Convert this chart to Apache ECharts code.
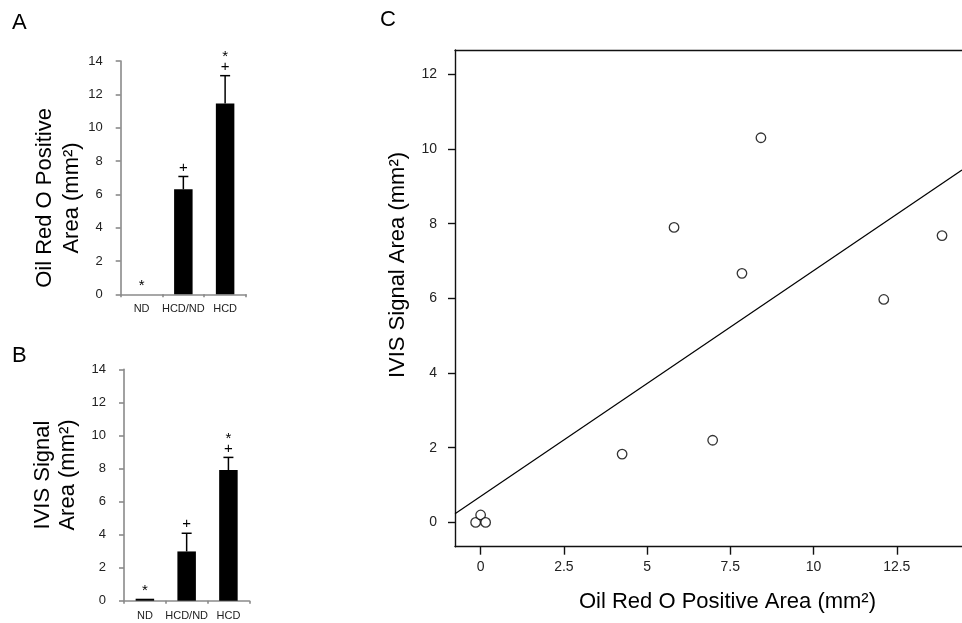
<!DOCTYPE html>
<html>
<head>
<meta charset="utf-8">
<script src="https://cdn.jsdelivr.net/npm/echarts@6/dist/echarts.min.js"></script>
<style>
  html, body { margin: 0; padding: 0; background: #fff; }
  #chart { width: 962px; height: 623px; }
</style>
</head>
<body>
<div id="chart"></div>
<script>
// panel A / B bar data
const groups = ['ND', 'HCD/ND', 'HCD']
const oilMean = [0, 6.3, 11.45]
const oilErr = [0, 0.77, 1.67]
const oilSig = [['*'], ['+'], ['+', '*']]
const ivisMean = [0.12, 2.98, 7.9]
const ivisErr = [0, 1.1, 0.77]
const ivisSig = [['*'], ['+'], ['+', '*']]
const barTicks = [0, 2, 4, 6, 8, 10, 12, 14]

// panel C scatter data
const oilX = [-0.15, 0, 0.15, 4.25, 5.81, 6.97, 7.85, 8.42, 12.11, 13.86]
const ivisY = [0, 0.2, 0, 1.83, 7.9, 2.2, 6.67, 10.3, 5.97, 7.68]
const fitSlope = 0.604
const fitIntercept = 0.70
const xTicksC = [0, 2.5, 5, 7.5, 10, 12.5]
const yTicksC = [0, 2, 4, 6, 8, 10, 12]
const xMinC = -0.77, xMaxC = 14.46
const yMinC = -0.65, yMaxC = 12.65

const FONT = "'Liberation Sans', Arial, sans-serif"
const chart = echarts.init(document.getElementById('chart'), null, { renderer: 'canvas' })

function catAxis(grid, margin) {
  return {
    type: 'category', gridIndex: grid, data: groups, boundaryGap: true,
    axisLine: { show: true, onZero: false, lineStyle: { color: '#8a8a8a', width: 1.6 } },
    axisTick: { show: true, length: 3, lineStyle: { color: '#8a8a8a', width: 1.6 } },
    axisLabel: { interval: 0, fontSize: 11, color: '#222', fontFamily: FONT, margin: margin },
    splitLine: { show: false }
  }
}
function barValAxis(grid) {
  return {
    type: 'value', gridIndex: grid, min: 0, max: 14, interval: 2,
    axisLine: { show: true, lineStyle: { color: '#8a8a8a', width: 1.6 } },
    axisTick: { show: true, length: 5, lineStyle: { color: '#8a8a8a', width: 1.6 } },
    axisLabel: { fontSize: 13, color: '#222', fontFamily: FONT, margin: 18 },
    splitLine: { show: false }
  }
}

function errSeries(idx, mean, err) {
  return {
    type: 'custom', xAxisIndex: idx, yAxisIndex: idx, z: 3,
    data: groups.map((g, i) => [i, mean[i], err[i]]),
    renderItem: (params, api) => {
      const e = api.value(2)
      if (!e) return null
      const bot = api.coord([api.value(0), api.value(1)])
      const top = api.coord([api.value(0), api.value(1) + e])
      const st = { stroke: '#000', lineWidth: 1.5 }
      return {
        type: 'group', children: [
          { type: 'line', shape: { x1: bot[0], y1: bot[1], x2: top[0], y2: top[1] }, style: st },
          { type: 'line', shape: { x1: top[0] - 5, y1: top[1], x2: top[0] + 5, y2: top[1] }, style: st }
        ]
      }
    }
  }
}

function sigSeries(idx, mean, err, sig) {
  return {
    type: 'custom', xAxisIndex: idx, yAxisIndex: idx, z: 4,
    data: groups.map((g, i) => [i, mean[i] + err[i]]),
    renderItem: (params, api) => {
      const p = api.coord([api.value(0), api.value(1)])
      const marks = sig[params.dataIndex]
      return {
        type: 'group',
        children: marks.map((m, k) => {
          let off = k === 0 ? (m === '*' ? 11 : 9) : 22
          if (m === '*') off -= 3
          return {
            type: 'text', x: p[0], y: p[1] - off,
            style: { text: m, fill: '#000', fontSize: 15, fontFamily: FONT, align: 'center', verticalAlign: 'middle' }
          }
        })
      }
    }
  }
}

function label(text, x, y, size, rot, lh) {
  return {
    type: 'text', x: x, y: y, rotation: rot || 0,
    style: { text: text, fill: '#000', fontSize: size, fontFamily: FONT, align: 'center', verticalAlign: 'middle', lineHeight: lh || size }
  }
}

chart.setOption({
  animation: false,
  backgroundColor: '#fff',
  grid: [
    { left: 120.7, top: 61, width: 125.3, height: 233.3, outerBoundsMode: 'none' },
    { left: 124, top: 369.3, width: 125.3, height: 231.4, outerBoundsMode: 'none' },
    { left: 455, top: 50, right: 0, height: 496.7, outerBoundsMode: 'none' }
  ],
  xAxis: [
    catAxis(0, 9),
    catAxis(1, 10),
    {
      type: 'value', gridIndex: 2, min: xMinC, max: xMaxC,
      axisLine: { show: true, onZero: false, lineStyle: { color: '#111', width: 1.4 } },
      axisTick: { show: true, length: 8, customValues: xTicksC, lineStyle: { color: '#111', width: 1.4 } },
      axisLabel: { customValues: xTicksC, fontSize: 14, color: '#222', fontFamily: FONT, margin: 13 },
      splitLine: { show: false }
    },
    {
      type: 'value', gridIndex: 2, position: 'top', min: xMinC, max: xMaxC,
      axisLine: { show: true, onZero: false, lineStyle: { color: '#111', width: 1.4 } },
      axisTick: { show: false }, axisLabel: { show: false }, splitLine: { show: false }
    }
  ],
  yAxis: [
    barValAxis(0),
    barValAxis(1),
    {
      type: 'value', gridIndex: 2, min: yMinC, max: yMaxC,
      axisLine: { show: true, onZero: false, lineStyle: { color: '#111', width: 1.4 } },
      axisTick: { show: true, length: 7, customValues: yTicksC, lineStyle: { color: '#111', width: 1.4 } },
      axisLabel: { customValues: yTicksC, fontSize: 14, color: '#222', fontFamily: FONT, margin: 18 },
      splitLine: { show: false }
    }
  ],
  series: [
    { type: 'bar', xAxisIndex: 0, yAxisIndex: 0, data: oilMean, barWidth: 18.5, itemStyle: { color: '#000' } },
    errSeries(0, oilMean, oilErr),
    sigSeries(0, oilMean, oilErr, oilSig),
    { type: 'bar', xAxisIndex: 1, yAxisIndex: 1, data: ivisMean, barWidth: 18.5, itemStyle: { color: '#000' } },
    errSeries(1, ivisMean, ivisErr),
    sigSeries(1, ivisMean, ivisErr, ivisSig),
    {
      type: 'line', xAxisIndex: 2, yAxisIndex: 2, showSymbol: false, symbol: 'none', z: 2,
      data: [[xMinC, fitIntercept + fitSlope * xMinC], [xMaxC, fitIntercept + fitSlope * xMaxC]],
      lineStyle: { color: '#000', width: 1.2 }
    },
    {
      type: 'scatter', xAxisIndex: 2, yAxisIndex: 2, symbol: 'circle', symbolSize: 9.5, z: 3,
      data: oilX.map((x, i) => [x, ivisY[i]]),
      itemStyle: { color: '#fff', borderColor: '#000', borderWidth: 1.3 }
    }
  ],
  graphic: [
    { type: 'text', left: 12, top: 12, style: { text: 'A', fontSize: 22, fontFamily: FONT, fill: '#000' } },
    { type: 'text', left: 12, top: 345, style: { text: 'B', fontSize: 22, fontFamily: FONT, fill: '#000' } },
    { type: 'text', left: 380, top: 9, style: { text: 'C', fontSize: 22, fontFamily: FONT, fill: '#000' } },
    label('Oil Red O Positive\nArea (mm²)', 58.3, 198, 22, Math.PI / 2, 26.7),
    label('IVIS Signal\nArea (mm²)', 55.5, 475, 22, Math.PI / 2, 25),
    label('IVIS Signal Area (mm²)', 398, 265, 22, Math.PI / 2),
    label('Oil Red O Positive Area (mm²)', 727.5, 601.7, 22)
  ]
})
</script>
</body>
</html>
